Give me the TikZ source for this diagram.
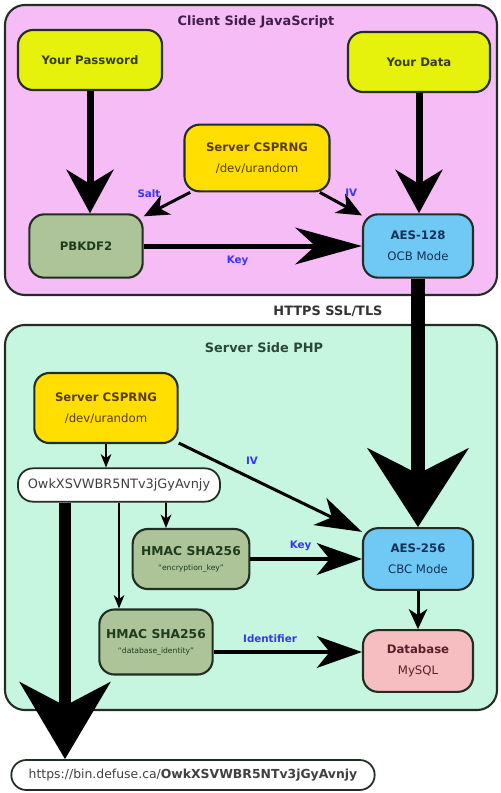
\documentclass[tikz,border=0pt]{standalone}
\usepackage{fontspec}
\setmainfont{DejaVu Sans}
\usetikzlibrary{arrows.meta}
\definecolor{clientbg}{RGB}{246,188,246}
\definecolor{serverbg}{RGB}{198,246,224}
\definecolor{inputcol}{RGB}{230,242,12}
\definecolor{rngcol}{RGB}{255,222,0}
\definecolor{kdfcol}{RGB}{172,196,152}
\definecolor{aescol}{RGB}{112,200,245}
\definecolor{dbcol}{RGB}{246,190,192}
\definecolor{edgecol}{RGB}{35,45,35}
\definecolor{lblblue}{RGB}{55,55,235}
\begin{document}
\begin{tikzpicture}[x=0.03cm, y=-0.03cm,
		panel/.style={draw=edgecol, line width=1.8pt, rounded corners=0.6cm},
		box/.style={draw=edgecol, line width=1.8pt, rounded corners=0.45cm, align=center, inner sep=1pt, font=\fontsize{10}{18}\selectfont},
		pill/.style={draw=edgecol, line width=1.5pt, rounded corners=0.45cm, fill=white, text=black!75, font=\fontsize{11}{13}\selectfont},
		lbl/.style={text=lblblue, font=\bfseries\fontsize{8.8}{10}\selectfont},
		title/.style={font=\bfseries\fontsize{11}{13}\selectfont},
		huge arrow/.style={line width=0.42cm, -{Stealth[length=2.35cm, width=3cm, inset=0.75cm]}},
		fat arrow/.style={line width=0.21cm, -{Stealth[length=1.3cm, width=1.4cm, inset=0.42cm]}},
		key arrow/.style={line width=0.15cm, -{Stealth[length=2cm, width=1.1cm, inset=0.6cm]}},
		mid arrow/.style={line width=0.12cm, -{Stealth[length=1.35cm, width=0.95cm, inset=0.38cm]}},
		iv arrow/.style={line width=0.09cm, -{Stealth[length=1.4cm, width=0.9cm, inset=0.4cm]}},
		thin arrow/.style={line width=0.09cm, -{Stealth[length=0.75cm, width=0.65cm, inset=0.22cm]}},
		small arrow/.style={line width=0.09cm, -{Stealth[length=0.6cm, width=0.55cm, inset=0.18cm]}},
		tiny arrow/.style={line width=0.05cm, -{Stealth[length=0.4cm, width=0.32cm, inset=0.12cm]}}]
		\useasboundingbox (0,0) rectangle (500,793);
		\node[panel, fill=clientbg, minimum width=14.76cm, minimum height=8.7cm] (client) at (251,150) {};
		\node[panel, fill=serverbg, minimum width=14.76cm, minimum height=11.55cm] (server) at (251,517.5) {};
		\node[title, text={rgb,255:red,65;green,30;blue,75}] (ctitle) at (256,22) {Client Side JavaScript};
		\node[title, text={rgb,255:red,45;green,70;blue,60}] (stitle) at (264,348) {Server Side PHP};
		\node[title, text=black!80] (https) at (328,311) {HTTPS SSL/TLS};
		\node[box, fill=inputcol, text={rgb,255:red,55;green,60;blue,15}, font=\bfseries\fontsize{10}{12}\selectfont, minimum width=4.32cm, minimum height=1.8cm] (pw) at (90,60) {Your Password};
		\node[box, fill=inputcol, text={rgb,255:red,55;green,60;blue,15}, font=\bfseries\fontsize{10}{12}\selectfont, minimum width=4.26cm, minimum height=1.8cm] (data) at (419,62) {Your Data};
		\node[box, fill=rngcol, text={rgb,255:red,85;green,60;blue,0}, minimum width=4.35cm, minimum height=2cm] (rng1) at (257,158) {\textbf{Server CSPRNG}\\/dev/urandom};
		\node[box, fill=kdfcol, text={rgb,255:red,30;green,60;blue,30}, font=\bfseries\fontsize{10}{12}\selectfont, minimum width=3.4cm, minimum height=1.9cm] (pbk) at (86,246) {PBKDF2};
		\node[box, fill=aescol, text={rgb,255:red,20;green,50;blue,85}, minimum width=3.3cm, minimum height=1.9cm] (aes1) at (418,246) {\textbf{AES-128}\\OCB Mode};
		\node[box, fill=rngcol, text={rgb,255:red,85;green,60;blue,0}, minimum width=4.3cm, minimum height=2.1cm] (rng2) at (106,408) {\textbf{Server CSPRNG}\\/dev/urandom};
		\node[pill, minimum width=6.06cm, minimum height=1cm] (key) at (119,485) {OwkXSVWBR5NTv3jGyAvnjy};
		\node[box, fill=kdfcol, text={rgb,255:red,30;green,60;blue,30}, font=\fontsize{10.5}{13}\selectfont, minimum width=3.5cm, minimum height=1.8cm] (hm1) at (191,559) {\textbf{HMAC SHA256}\\{\fontsize{6.5}{8}\selectfont ``encryption\_key''}};
		\node[box, fill=kdfcol, text={rgb,255:red,30;green,60;blue,30}, font=\fontsize{10.5}{13}\selectfont, minimum width=3.4cm, minimum height=1.95cm] (hm2) at (156,642) {\textbf{HMAC SHA256}\\{\fontsize{6.5}{8}\selectfont ``database\_identity''}};
		\node[box, fill=aescol, text={rgb,255:red,20;green,50;blue,85}, minimum width=3.3cm, minimum height=1.85cm] (aes2) at (418,559) {\textbf{AES-256}\\CBC Mode};
		\node[box, fill=dbcol, text={rgb,255:red,90;green,30;blue,40}, minimum width=3.3cm, minimum height=1.85cm] (db) at (418,661) {\textbf{Database}\\MySQL};
		\node[pill, font=\fontsize{10.6}{13}\selectfont, minimum width=10.9cm, minimum height=0.9cm] (url) at (193,775) {https://bin.defuse.ca/\textbf{OwkXSVWBR5NTv3jGyAvnjy}};
		\draw[fat arrow] (pw) -- (pw |- pbk.north);
		\draw[fat arrow] (data) -- (data |- aes1.north);
		\draw[thin arrow] (rng1) -- node[lbl, pos=0.5, above left=1pt]{Salt} (pbk);
		\draw[thin arrow] (rng1) -- node[lbl, pos=0.45, above right=1pt]{IV} (aes1);
		\draw[key arrow] (pbk) -- node[lbl, pos=0.43, below=3pt]{Key} (aes1);
		\draw[huge arrow] (aes1) -- (aes2);
		\draw[tiny arrow] (rng2) -- (rng2 |- key.north);
		\draw[iv arrow] (rng2) -- node[lbl, pos=0.4, above=7pt]{IV} (aes2);
		\draw[tiny arrow] ([xshift=1.41cm]key.south) -- ([xshift=-0.75cm]hm1.north);
		\draw[tiny arrow] (key.south) -- (key.south |- hm2.north);
		\draw[huge arrow, line width=0.36cm, -{Stealth[length=2.3cm, width=2.7cm, inset=0.7cm]}] ([xshift=-1.62cm]key.south) -- ([xshift=-1.62cm]key.south |- url.north);
		\draw[mid arrow] (hm1) -- node[lbl, pos=0.45, above=2pt]{Key} (aes2);
		\coordinate (idl) at ([yshift=-0.3cm]hm2.east);
		\draw[mid arrow] (idl) -- node[lbl, pos=0.38, above=3pt]{Identifier} (idl -| db.west);
		\draw[small arrow] (aes2) -- (db);
		\end{tikzpicture}
\end{document}
